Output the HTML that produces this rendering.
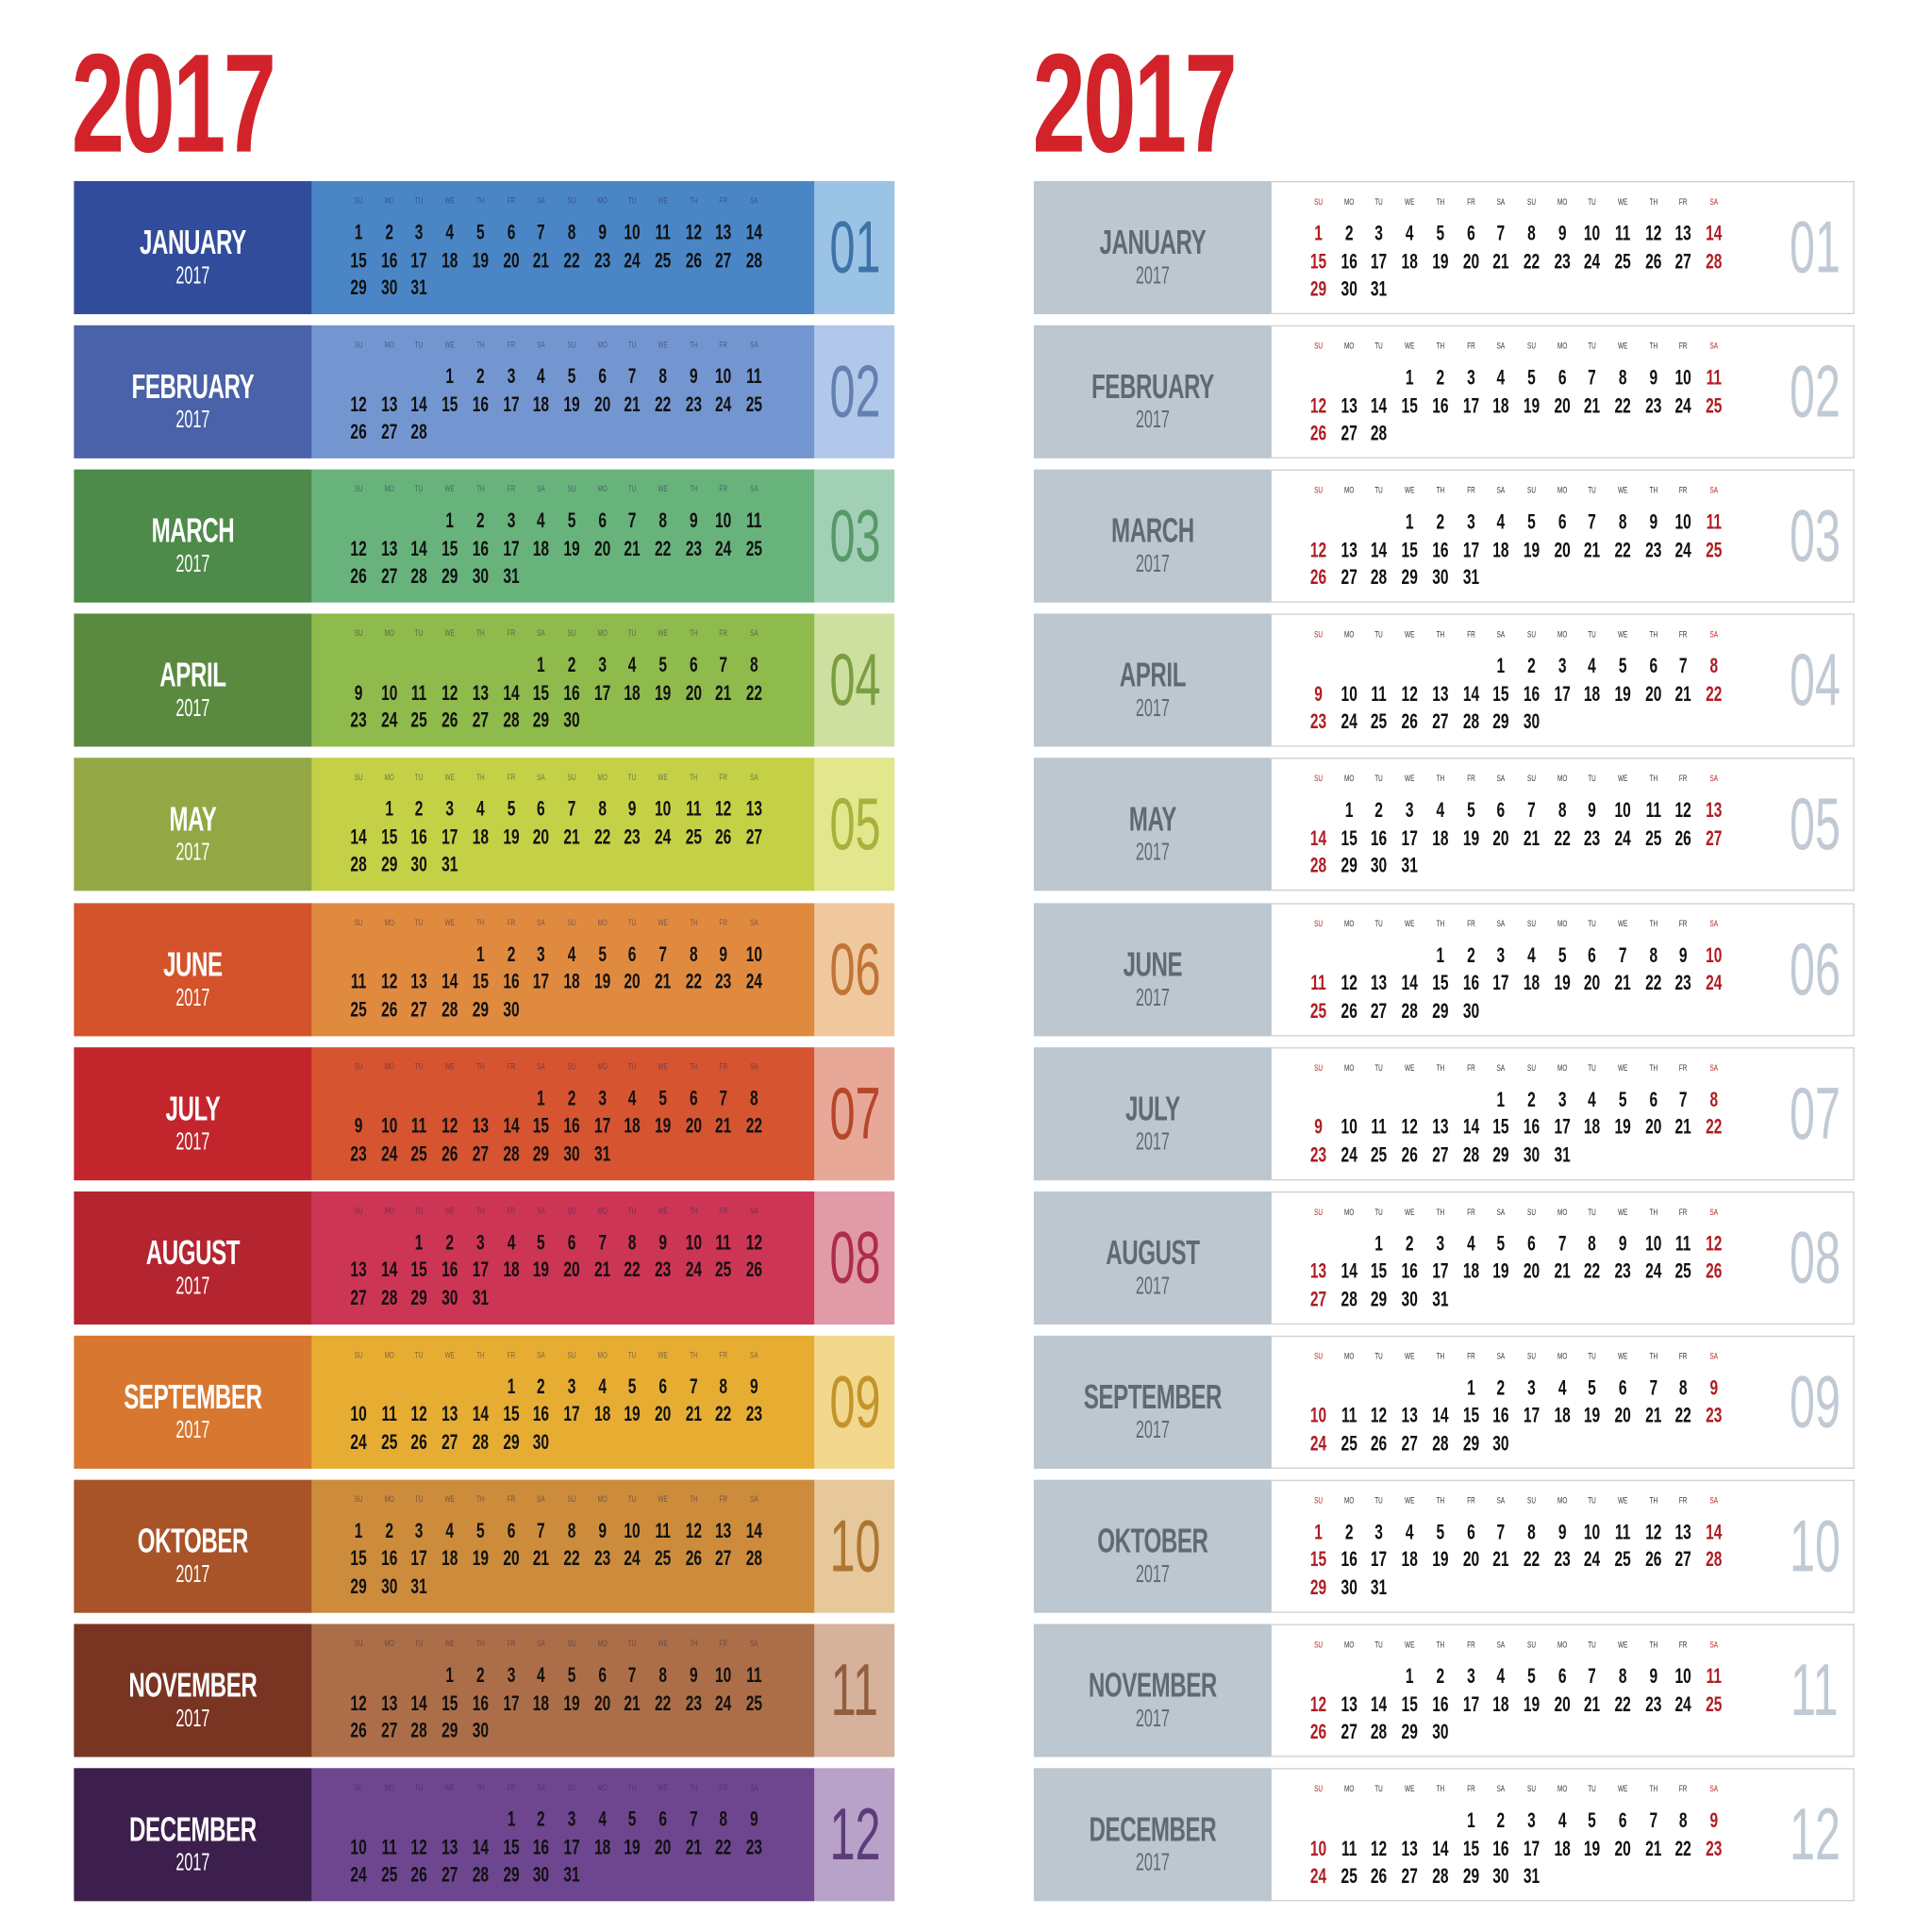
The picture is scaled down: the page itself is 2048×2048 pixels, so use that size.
<!DOCTYPE html>
<html><head><meta charset="utf-8"><style>
html,body{margin:0;padding:0;background:#fff;width:2048px;height:2048px;overflow:hidden}
#wrap{position:absolute;left:0;top:0;width:1568px;height:1568px;transform:scale(1.30612);transform-origin:0 0;font-family:"Liberation Sans Narrow","Liberation Sans",sans-serif}
.abs{position:absolute}
.title{font-weight:bold;color:#d2232a;font-size:114px;line-height:1;letter-spacing:-3px;transform:scaleX(0.68);transform-origin:0 0}
.mname{font-weight:bold;font-size:28px;text-align:center;width:193px;transform:scaleX(0.66);letter-spacing:-0.5px}
.myear{font-size:20px;text-align:center;width:193px;transform:scaleX(0.62)}
.hd{font-size:7px;width:20px;text-align:center;transform:scaleX(0.7)}
.dn{font-weight:bold;font-size:17px;width:24px;text-align:center;transform:scaleX(0.7);line-height:1}
.big{font-size:60px;text-align:center;transform:scaleX(0.62);line-height:1;font-weight:normal}
</style></head><body>
<div id="wrap">
<div class="abs title" style="left:58px;top:28px">2017</div>
<div class="abs title" style="left:838px;top:28px">2017</div>
</div>
<script>
const monthNames=["JANUARY","FEBRUARY","MARCH","APRIL","MAY","JUNE","JULY","AUGUST","SEPTEMBER","OKTOBER","NOVEMBER","DECEMBER"];
const startDays=[0,3,3,6,1,4,6,2,5,0,3,5];
const monthLengths=[31,28,31,30,31,30,31,31,30,31,30,31];
const headers=["SU","MO","TU","WE","TH","FR","SA","SU","MO","TU","WE","TH","FR","SA"];
const labelColors=["#304c9b","#4a62a8","#4e8a4a","#5a8a40","#93a844","#d4532a","#c2262c","#b52530","#d87830","#a85428","#7a3422","#3c1f4c"];
const dayColors=["#4a86c6","#7496d0","#68b37c","#8fba4c","#c4d046","#e08a40","#d65430","#cd3555","#e6ad32","#cc8c3c","#ac6e48","#6e4690"];
const boxColors=["#9bc3e6","#b2c8ea","#a2d0b6","#cde0a0","#e2e68c","#f0c89e","#e8a898","#e19aa8","#f2d88c","#e6c89a","#d6b29c","#b8a2c8"];
const wrap=document.getElementById('wrap');
function mk(cls,style,text,parent){const e=document.createElement('div');e.className='abs '+(cls||'');e.style.cssText=style;if(text!==undefined)e.textContent=text;(parent||wrap).appendChild(e);return e;}
const rowTop=147,rowPitch=117.1,rowH=108;
for(let m=0;m<12;m++){
  const y=rowTop+m*rowPitch;
  for(let side=0;side<2;side++){
    const L=side?839:60;
    const lab=mk('',`left:${L}px;top:${y}px;width:193px;height:${rowH}px;background:${side?'#bcc7d0':labelColors[m]}`);
    
    
    const tc=side?'#5f6a73':'#fff';
    const n=mk('mname',`left:0;top:34px;color:${tc}`,monthNames[m],lab);
    
    
    const yr=mk('myear',`left:0;top:66px;color:${tc}`,'2017',lab);
    
    
    const days=mk('',`left:${L+193}px;top:${y}px;width:${side?473:408}px;height:${rowH}px;box-sizing:border-box;background:${side?'#fff':dayColors[m]};${side?'border:1.5px solid #c8d0d8;border-left:none':''}`);
    
    
    const c0=side?1070-L-193:291-L-193;
    headers.forEach((h,i)=>{
      const red=side&&(i==0||i==13);
      const e=mk('hd',`left:${c0+i*24.7-10}px;top:13px;color:${side?(red?'#b01c22':'#333'):'rgba(40,40,80,0.55)'}`,h,days);
      
      
    });
    for(let d=1;d<=monthLengths[m];d++){
      const p=startDays[m]+d-1,col=p%14,row=Math.floor(p/14);
      const red=side&&(col==0||col==13);
      const e=mk('dn',`left:${c0+col*24.7-12}px;top:${33+row*22.5}px;color:${red?'#b01c22':'#111'}`,String(d),days);
      
      
    }
    if(!side){
      const b=mk('',`left:661px;top:${y}px;width:65px;height:${rowH}px;background:${boxColors[m]}`);
      
      
      const t=mk('big',`left:0;top:24px;width:65px;color:${dayColors[m]}`,String(m+1).padStart(2,'0'),b);
      t.style.filter='brightness(0.85)';
      
      
    }else{
      const t=mk('big',`left:1440px;top:${y+24}px;width:65px;color:#c0cad4`,String(m+1).padStart(2,'0'));
      
      
    }
  }
}
</script>
</body></html>
